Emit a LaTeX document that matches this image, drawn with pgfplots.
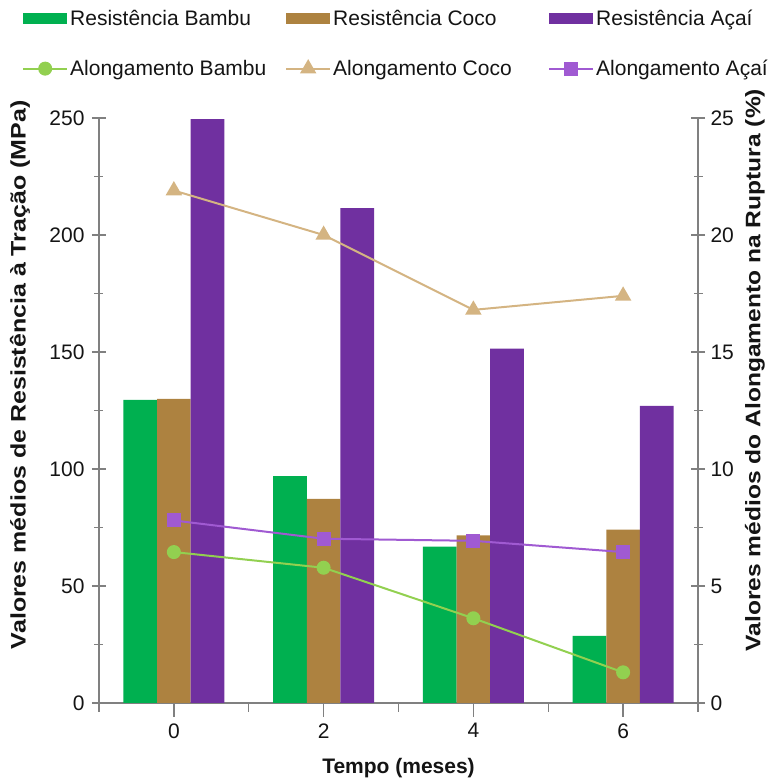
\documentclass[border=0pt]{standalone}
\usepackage{fontspec}
\setmainfont{Liberation Sans}
\usepackage{pgfplots}
\pgfplotsset{compat=1.18}
\definecolor{cBam}{RGB}{0,176,80}
\definecolor{cCoco}{RGB}{173,130,64}
\definecolor{cAcai}{RGB}{112,48,160}
\definecolor{lBam}{RGB}{146,208,80}
\definecolor{lCoco}{RGB}{212,180,130}
\definecolor{lAcai}{RGB}{160,90,210}
\definecolor{axgray}{RGB}{128,128,128}
\definecolor{txt}{RGB}{20,20,20}
\newcommand{\lbox}[1]{\makebox[213pt][l]{#1}}
\pgfplotsset{
  barleg/.style={legend image code/.code={\path[##1, draw=none] (0pt,-5.5pt) rectangle (44pt,5.5pt);}},
  lineleg/.style={legend image code/.code={\draw[mark repeat=2,mark phase=2,##1] plot coordinates {(0pt,0pt) (22pt,0pt) (44pt,0pt)};}},
  common/.style={
    at={(0,0)}, anchor=south west,
    scale only axis, width=599pt, height=585pt,
    xmin=-0.5, xmax=3.5,
    axis line style={axgray, line width=1.8pt},
    tick style={axgray, line width=1.5pt},
    tick align=center,
    major tick length=14pt, minor tick length=9pt,
    tick label style={font=\fontsize{21}{24}\selectfont, text=txt},
    /pgf/number format/assume math mode=true,
  }
}
\begin{document}
\begin{tikzpicture}[x=1pt,y=1pt]
\useasboundingbox (-99,-76) rectangle (681,703);
\begin{axis}[common,
  ybar=0pt, bar width=33.6pt,
  ymin=0, ymax=250,
  axis x line*=bottom, axis y line*=left,
  xtick={0,1,2,3}, xticklabels={0,2,4,6},
  minor xtick={-0.5,0.5,1.5,2.5,3.5},
  ytick={0,50,...,250}, minor ytick={25,75,...,225},
  xticklabel style={yshift=-3pt},
  yticklabel style={xshift=-4pt},
  xlabel={Tempo (meses)},
  ylabel={Valores médios de Resistência à Tração (MPa)},
  every axis x label/.style={at={(axis description cs:0.5,0)}, yshift=-65pt, anchor=center, font=\bfseries\fontsize{21}{24}\selectfont, text=txt},
  every axis y label/.style={at={(axis description cs:0,0.561)}, xshift=-79pt, anchor=center, rotate=90, xscale=1.19, font=\bfseries\fontsize{21}{24}\selectfont, text=txt},
]
\addplot[fill=cBam, draw=none] coordinates {(0,129.5) (1,97) (2,66.8) (3,28.7)};
\addplot[fill=cCoco, draw=none] coordinates {(0,130) (1,87.2) (2,71.6) (3,74.1)};
\addplot[fill=cAcai, draw=none] coordinates {(0,249.5) (1,211.5) (2,151.4) (3,127)};
\end{axis}
\begin{axis}[common,
  ymin=0, ymax=25,
  axis x line=none, axis y line*=right,
  ytick={0,5,...,25}, minor ytick={2.5,7.5,...,22.5},
  yticklabel style={xshift=2pt},
  ylabel={Valores médios do Alongamento na Ruptura (\%)},
  every axis y label/.style={at={(axis description cs:1,0.569)}, xshift=57pt, anchor=center, rotate=90, xscale=1.17, font=\bfseries\fontsize{21}{24}\selectfont, text=txt},
  legend columns=3,
  legend style={at={(axis description cs:0,1)}, anchor=north west, xshift=-80pt, yshift=112pt,
    draw=none, fill=none, font=\fontsize{21}{24}\selectfont, text=txt,
    row sep=29pt, column sep=0pt},
  legend cell align=left,
]
\addlegendimage{barleg, fill=cBam}
\addlegendentry{\lbox{Resistência Bambu}}
\addlegendimage{barleg, fill=cCoco}
\addlegendentry{\lbox{Resistência Coco}}
\addlegendimage{barleg, fill=cAcai}
\addlegendentry{Resistência Açaí}
\addplot[lineleg, color=lBam, line width=2pt, mark=*, mark size=6pt] coordinates {(0,6.45) (1,5.78) (2,3.62) (3,1.31)};
\addlegendentry{\lbox{Alongamento Bambu}}
\addplot[lineleg, color=lCoco, line width=2pt, mark=triangle*, mark size=7.5pt] coordinates {(0,21.9) (1,20) (2,16.8) (3,17.4)};
\addlegendentry{\lbox{Alongamento Coco}}
\addplot[lineleg, color=lAcai, line width=2pt, mark=square*, mark size=6pt] coordinates {(0,7.8) (1,7.02) (2,6.93) (3,6.45)};
\addlegendentry{Alongamento Açaí}
\end{axis}
\end{tikzpicture}
\end{document}
